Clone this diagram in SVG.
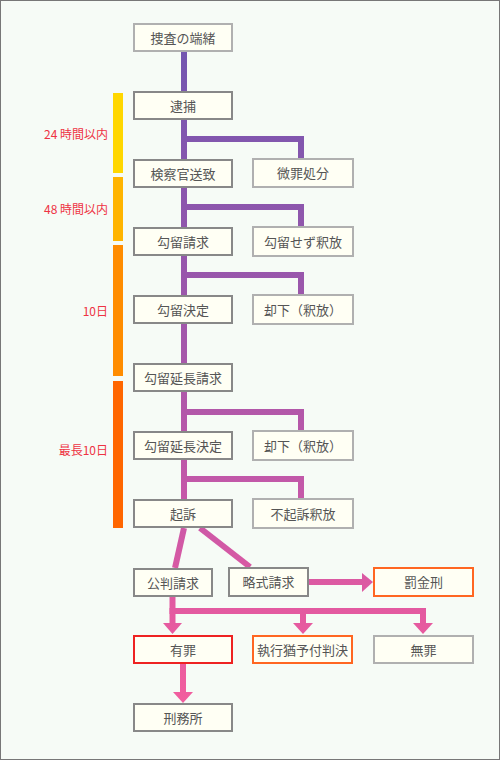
<svg xmlns="http://www.w3.org/2000/svg" width="500" height="760" viewBox="0 0 500 760">
<defs>
<linearGradient id="g" gradientUnits="userSpaceOnUse" x1="0" y1="50" x2="0" y2="705">
<stop offset="0" stop-color="#7356b0"/>
<stop offset="0.45" stop-color="#a457aa"/>
<stop offset="0.7" stop-color="#c858a8"/>
<stop offset="0.86" stop-color="#e45aa0"/>
<stop offset="1" stop-color="#f25e9e"/>
</linearGradient>
<style>
.b rect{fill:#fffff4;stroke-width:2}
.m rect{stroke:#888}
.s rect{stroke:#b0b0b0}
.r rect{stroke:#ee2222}
.o rect{stroke:#ff6622}
.b text{font-family:"Noto Sans CJK JP","Noto Sans",sans-serif;font-size:13px;fill:#555;text-anchor:middle}
.l{font-family:"Noto Sans CJK JP","Noto Sans",sans-serif;font-size:12px;fill:#ee3344;text-anchor:end}
.c path{fill:none;stroke:url(#g);stroke-width:6}
.c polygon{fill:url(#g)}
</style>
</defs>
<rect x="0.5" y="0.5" width="499" height="759" fill="#f6fbf6" stroke="#777" stroke-width="1"/>
<g id="periods">
<rect x="113" y="93" width="10" height="80" fill="#ffd700"/>
<rect x="113" y="177" width="10" height="64" fill="#ffb400"/>
<rect x="113" y="245" width="10" height="131" fill="#ff8c00"/>
<rect x="113" y="381" width="10" height="147" fill="#ff6600"/>
<text class="l" x="108" y="139">24 時間以内</text>
<text class="l" x="108" y="214">48 時間以内</text>
<text class="l" x="108" y="316">10日</text>
<text class="l" x="108" y="455">最長10日</text>
</g>
<g id="connectors" class="c">
<path d="M184,52 V500"/>
<path d="M184,139 H301 V159"/>
<path d="M184,207 H301 V227"/>
<path d="M184,275 H301 V295"/>
<path d="M184,412 H301 V430"/>
<path d="M184,479 H301 V498"/>
<path d="M184,528 L175,568"/>
<path d="M200,528 L250,567"/>
<path d="M309,582 H363"/>
<polygon points="362,573 373,582 362,592"/>
<path d="M172.5,597 V624"/>
<path d="M169.5,611 H426"/>
<path d="M303,611 V624"/>
<path d="M423,611 V624"/>
<polygon points="163,623 182,623 172.5,634"/>
<polygon points="293,623 313,623 303,634"/>
<polygon points="413,623 433,623 423,634"/>
<path d="M183,664 V693"/>
<polygon points="173,692 193,692 183,703"/>
</g>
<g id="n1" class="b s"><rect x="134" y="24" width="98" height="27"/><text x="183" y="42.5">捜査の端緒</text></g>
<g id="n2" class="b m"><rect x="134" y="92" width="98" height="27"/><text x="183" y="110.5">逮捕</text></g>
<g id="n3" class="b m"><rect x="134" y="160" width="98" height="27"/><text x="183" y="178.5">検察官送致</text></g>
<g id="n4" class="b s"><rect x="253" y="159" width="100" height="28"/><text x="303" y="178">微罪処分</text></g>
<g id="n5" class="b m"><rect x="134" y="228" width="98" height="27"/><text x="183" y="246.5">勾留請求</text></g>
<g id="n6" class="b s"><rect x="253" y="227" width="100" height="29"/><text x="303" y="246.5">勾留せず釈放</text></g>
<g id="n7" class="b m"><rect x="134" y="296" width="98" height="27"/><text x="183" y="314.5">勾留決定</text></g>
<g id="n8" class="b s"><rect x="253" y="295" width="100" height="29"/><text x="303" y="314.5">却下（釈放）</text></g>
<g id="n9" class="b m"><rect x="134" y="364" width="98" height="27"/><text x="183" y="382.5">勾留延長請求</text></g>
<g id="n10" class="b m"><rect x="134" y="432" width="98" height="27"/><text x="183" y="450.5">勾留延長決定</text></g>
<g id="n11" class="b s"><rect x="253" y="431" width="100" height="29"/><text x="303" y="450.5">却下（釈放）</text></g>
<g id="n12" class="b m"><rect x="134" y="500" width="98" height="27"/><text x="183" y="518.5">起訴</text></g>
<g id="n13" class="b s"><rect x="253" y="499" width="100" height="29"/><text x="303" y="518.5">不起訴釈放</text></g>
<g id="n14" class="b m"><rect x="134" y="569" width="78" height="27"/><text x="173" y="587.5">公判請求</text></g>
<g id="n15" class="b m"><rect x="229" y="568" width="79" height="28"/><text x="268.5" y="587">略式請求</text></g>
<g id="n16" class="b o"><rect x="374" y="568" width="99" height="28"/><text x="423.5" y="587">罰金刑</text></g>
<g id="n17" class="b r"><rect x="134" y="636" width="98" height="27"/><text x="183" y="654.5">有罪</text></g>
<g id="n18" class="b o"><rect x="253" y="636" width="99" height="27"/><text x="302.5" y="654.5">執行猶予付判決</text></g>
<g id="n19" class="b s"><rect x="374" y="636" width="99" height="27"/><text x="423.5" y="654.5">無罪</text></g>
<g id="n20" class="b m"><rect x="134" y="704" width="98" height="27"/><text x="183" y="722.5">刑務所</text></g>
</svg>
